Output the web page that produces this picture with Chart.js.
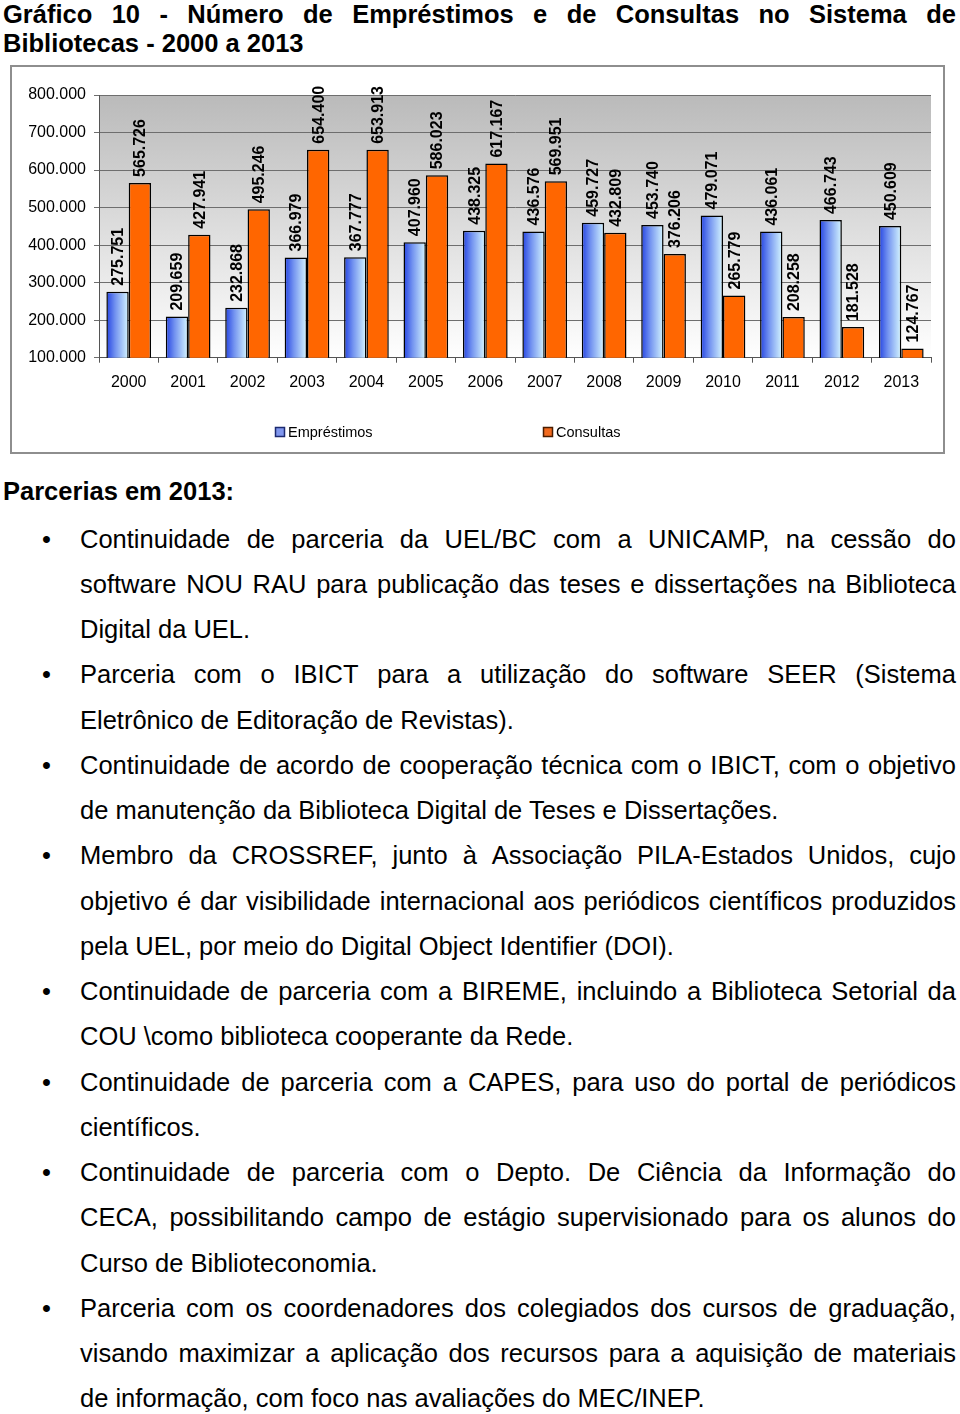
<!DOCTYPE html>
<html>
<head>
<meta charset="utf-8">
<script src="https://cdn.jsdelivr.net/npm/chart.js@4.4.1/dist/chart.umd.min.js"></script>
<style>
html,body{margin:0;padding:0;background:#fff;}
body{width:960px;height:1414px;position:relative;overflow:hidden;font-family:"Liberation Sans",Arial,sans-serif;color:#000;}
.ttl{position:absolute;left:3px;width:953px;font-weight:bold;font-size:25.5px;line-height:29px;height:29px;white-space:nowrap;}
.ln{position:absolute;left:80px;width:876px;font-size:25.5px;line-height:45.26px;height:45.26px;white-space:nowrap;}
.jf{display:flex;justify-content:space-between;}
.bul{position:absolute;left:42px;font-size:25.5px;line-height:45.26px;height:45.26px;}
.head{position:absolute;left:3px;top:476px;font-weight:bold;font-size:25.5px;line-height:30px;white-space:nowrap;}
#box{position:absolute;left:10px;top:65px;width:935px;height:389px;box-sizing:border-box;border:2px solid #8e8e8e;}
#chart{position:absolute;left:11px;top:66px;}
</style>
</head>
<body>
<div id="title"></div>
<div id="box"></div>
<canvas id="chart" width="933" height="386"></canvas>
<div class="head">Parcerias em 2013:</div>
<div id="body"></div>
<script>
// ---- data ----
const years = ['2000','2001','2002','2003','2004','2005','2006','2007','2008','2009','2010','2011','2012','2013'];
const emprestimos = [275751,209659,232868,366979,367777,407960,438325,436576,459727,453740,479071,436061,466743,450609];
const consultas = [565726,427941,495246,654400,653913,586023,617167,569951,432809,376206,265779,208258,181528,124767];
const seriesNames = ['Empréstimos','Consultas'];
const yMin = 100000, yMax = 800000, yStep = 100000;

// ---- texts ----
const titleLines = ['Gráfico 10 - Número de Empréstimos e de Consultas no Sistema de','Bibliotecas - 2000 a 2013'];
const items = [
 ['Continuidade de parceria da UEL/BC com a UNICAMP, na cessão do','software NOU RAU para publicação das teses e dissertações na Biblioteca','Digital da UEL.'],
 ['Parceria com o IBICT para a utilização do software SEER (Sistema','Eletrônico de Editoração de Revistas).'],
 ['Continuidade de acordo de cooperação técnica com o IBICT, com o objetivo','de manutenção da Biblioteca Digital de Teses e Dissertações.'],
 ['Membro da CROSSREF, junto à Associação PILA-Estados Unidos, cujo','objetivo é dar visibilidade internacional aos periódicos científicos produzidos','pela UEL, por meio do Digital Object Identifier (DOI).'],
 ['Continuidade de parceria com a BIREME, incluindo a Biblioteca Setorial da','COU \\como biblioteca cooperante da Rede.'],
 ['Continuidade de parceria com a CAPES, para uso do portal de periódicos','científicos.'],
 ['Continuidade de parceria com o Depto. De Ciência da Informação do','CECA, possibilitando campo de estágio supervisionado para os alunos do','Curso de Biblioteconomia.'],
 ['Parceria com os coordenadores dos colegiados dos cursos de graduação,','visando maximizar a aplicação dos recursos para a aquisição de materiais','de informação, com foco nas avaliações do MEC/INEP.']
];

function justified(div, text){
  div.classList.add('jf');
  text.split(' ').forEach(w=>{const s=document.createElement('span');s.textContent=w;div.appendChild(s);});
}
const tEl=document.getElementById('title');
titleLines.forEach((t,i)=>{
  const d=document.createElement('div');d.className='ttl';d.style.top=(0+i*29)+'px';
  if(i<titleLines.length-1) justified(d,t); else d.textContent=t;
  tEl.appendChild(d);
});
const bEl=document.getElementById('body');
let li=0;
const LH=45.26, TOP=516.5;
items.forEach(lines=>{
  const b=document.createElement('div');b.className='bul';b.textContent='•';b.style.top=(TOP+li*LH)+'px';bEl.appendChild(b);
  lines.forEach((t,k)=>{
    const d=document.createElement('div');d.className='ln';d.style.top=(TOP+li*LH)+'px';
    if(k<lines.length-1) justified(d,t); else d.textContent=t;
    bEl.appendChild(d);li++;
  });
});

// ---- chart ----
const fmt = n => String(n).replace(/\B(?=(\d{3})+(?!\d))/g,'.');
const CAT_PCT = 0.752;
const FONT = '"Liberation Sans", Arial, sans-serif';

function blueFill(c){
  const chart=c.chart, xs=chart.scales && chart.scales.x;
  if(c.type!=='data'||!xs||!chart.chartArea) return '#7f9ff2';
  const cat=(xs.right-xs.left)/years.length;
  const center=xs.getPixelForValue(c.dataIndex);
  const w=cat*CAT_PCT/2;
  const g=chart.ctx.createLinearGradient(center-w,0,center,0);
  g.addColorStop(0,'#2443e2');
  g.addColorStop(0.4,'#7393f0');
  g.addColorStop(1,'#d6f7ff');
  return g;
}

const bgPlugin={id:'bg',beforeDraw(chart){
  const {ctx,chartArea:a}=chart;
  const g=ctx.createLinearGradient(0,a.top,0,a.bottom);
  g.addColorStop(0,'#bababa');g.addColorStop(1,'#ffffff');
  ctx.save();ctx.fillStyle=g;ctx.fillRect(a.left,a.top,a.right-a.left,a.bottom-a.top);ctx.restore();
}};
const labelPlugin={id:'vlabels',afterDatasetsDraw(chart){
  const ctx=chart.ctx;
  ctx.save();ctx.font='bold 16px '+FONT;ctx.fillStyle='#000';
  chart.data.datasets.forEach((ds,i)=>{
    chart.getDatasetMeta(i).data.forEach((el,j)=>{
      ctx.save();ctx.translate(el.x+1,el.y-6);ctx.rotate(-Math.PI/2);
      ctx.textAlign='left';ctx.textBaseline='middle';
      ctx.fillText(fmt(ds.data[j]),0,0);ctx.restore();
    });
  });
  ctx.restore();
}};
const legendPlugin={id:'legendBoxes',afterDraw(chart){
  const ctx=chart.ctx;
  const pos=[{bx:264,tx:277},{bx:532,tx:545}];
  const fills=['#8097ee','#f26a1e'];
  const strokes=['#1c2a70','#4a1c00'];
  ctx.save();ctx.font='14.5px '+FONT;ctx.textBaseline='middle';ctx.textAlign='left';
  chart.data.datasets.forEach((ds,i)=>{
    const p=pos[i];
    ctx.fillStyle=fills[i];ctx.fillRect(p.bx,361,10,10);
    ctx.strokeStyle=strokes[i];ctx.lineWidth=1.5;ctx.strokeRect(p.bx+0.5,361.5,9,9);
    ctx.fillStyle='#000';ctx.fillText(ds.label,p.tx,366.5);
  });
  ctx.restore();
}};

new Chart(document.getElementById('chart'),{
  type:'bar',
  data:{labels:years,datasets:[
    {label:seriesNames[0],data:emprestimos,backgroundColor:blueFill,borderColor:'#000',borderWidth:1.5,borderSkipped:false,categoryPercentage:CAT_PCT,barPercentage:1},
    {label:seriesNames[1],data:consultas,backgroundColor:'#ff6600',borderColor:'#000',borderWidth:1.5,borderSkipped:false,categoryPercentage:CAT_PCT,barPercentage:1}
  ]},
  options:{
    responsive:false,animation:false,
    layout:{padding:{top:29,right:13,left:0,bottom:0}},
    plugins:{legend:{display:false},tooltip:{enabled:false}},
    scales:{
      x:{
        grid:{display:true,drawOnChartArea:false,drawTicks:true,tickLength:5,offset:true,color:'#555'},
        border:{display:true,color:'#555',width:1},
        ticks:{color:'#000',font:{family:FONT,size:16},padding:10,maxRotation:0},
        afterFit(s){s.height=94.3;}
      },
      y:{
        min:yMin,max:yMax,
        grid:{color:'#6e6e6e',tickLength:5,drawTicks:true},
        border:{display:true,color:'#555',width:1},
        ticks:{stepSize:yStep,color:'#000',font:{family:FONT,size:16},padding:8,callback:v=>fmt(v)},
        afterFit(s){s.width=88;}
      }
    }
  },
  plugins:[bgPlugin,labelPlugin,legendPlugin]
});
</script>
</body>
</html>
